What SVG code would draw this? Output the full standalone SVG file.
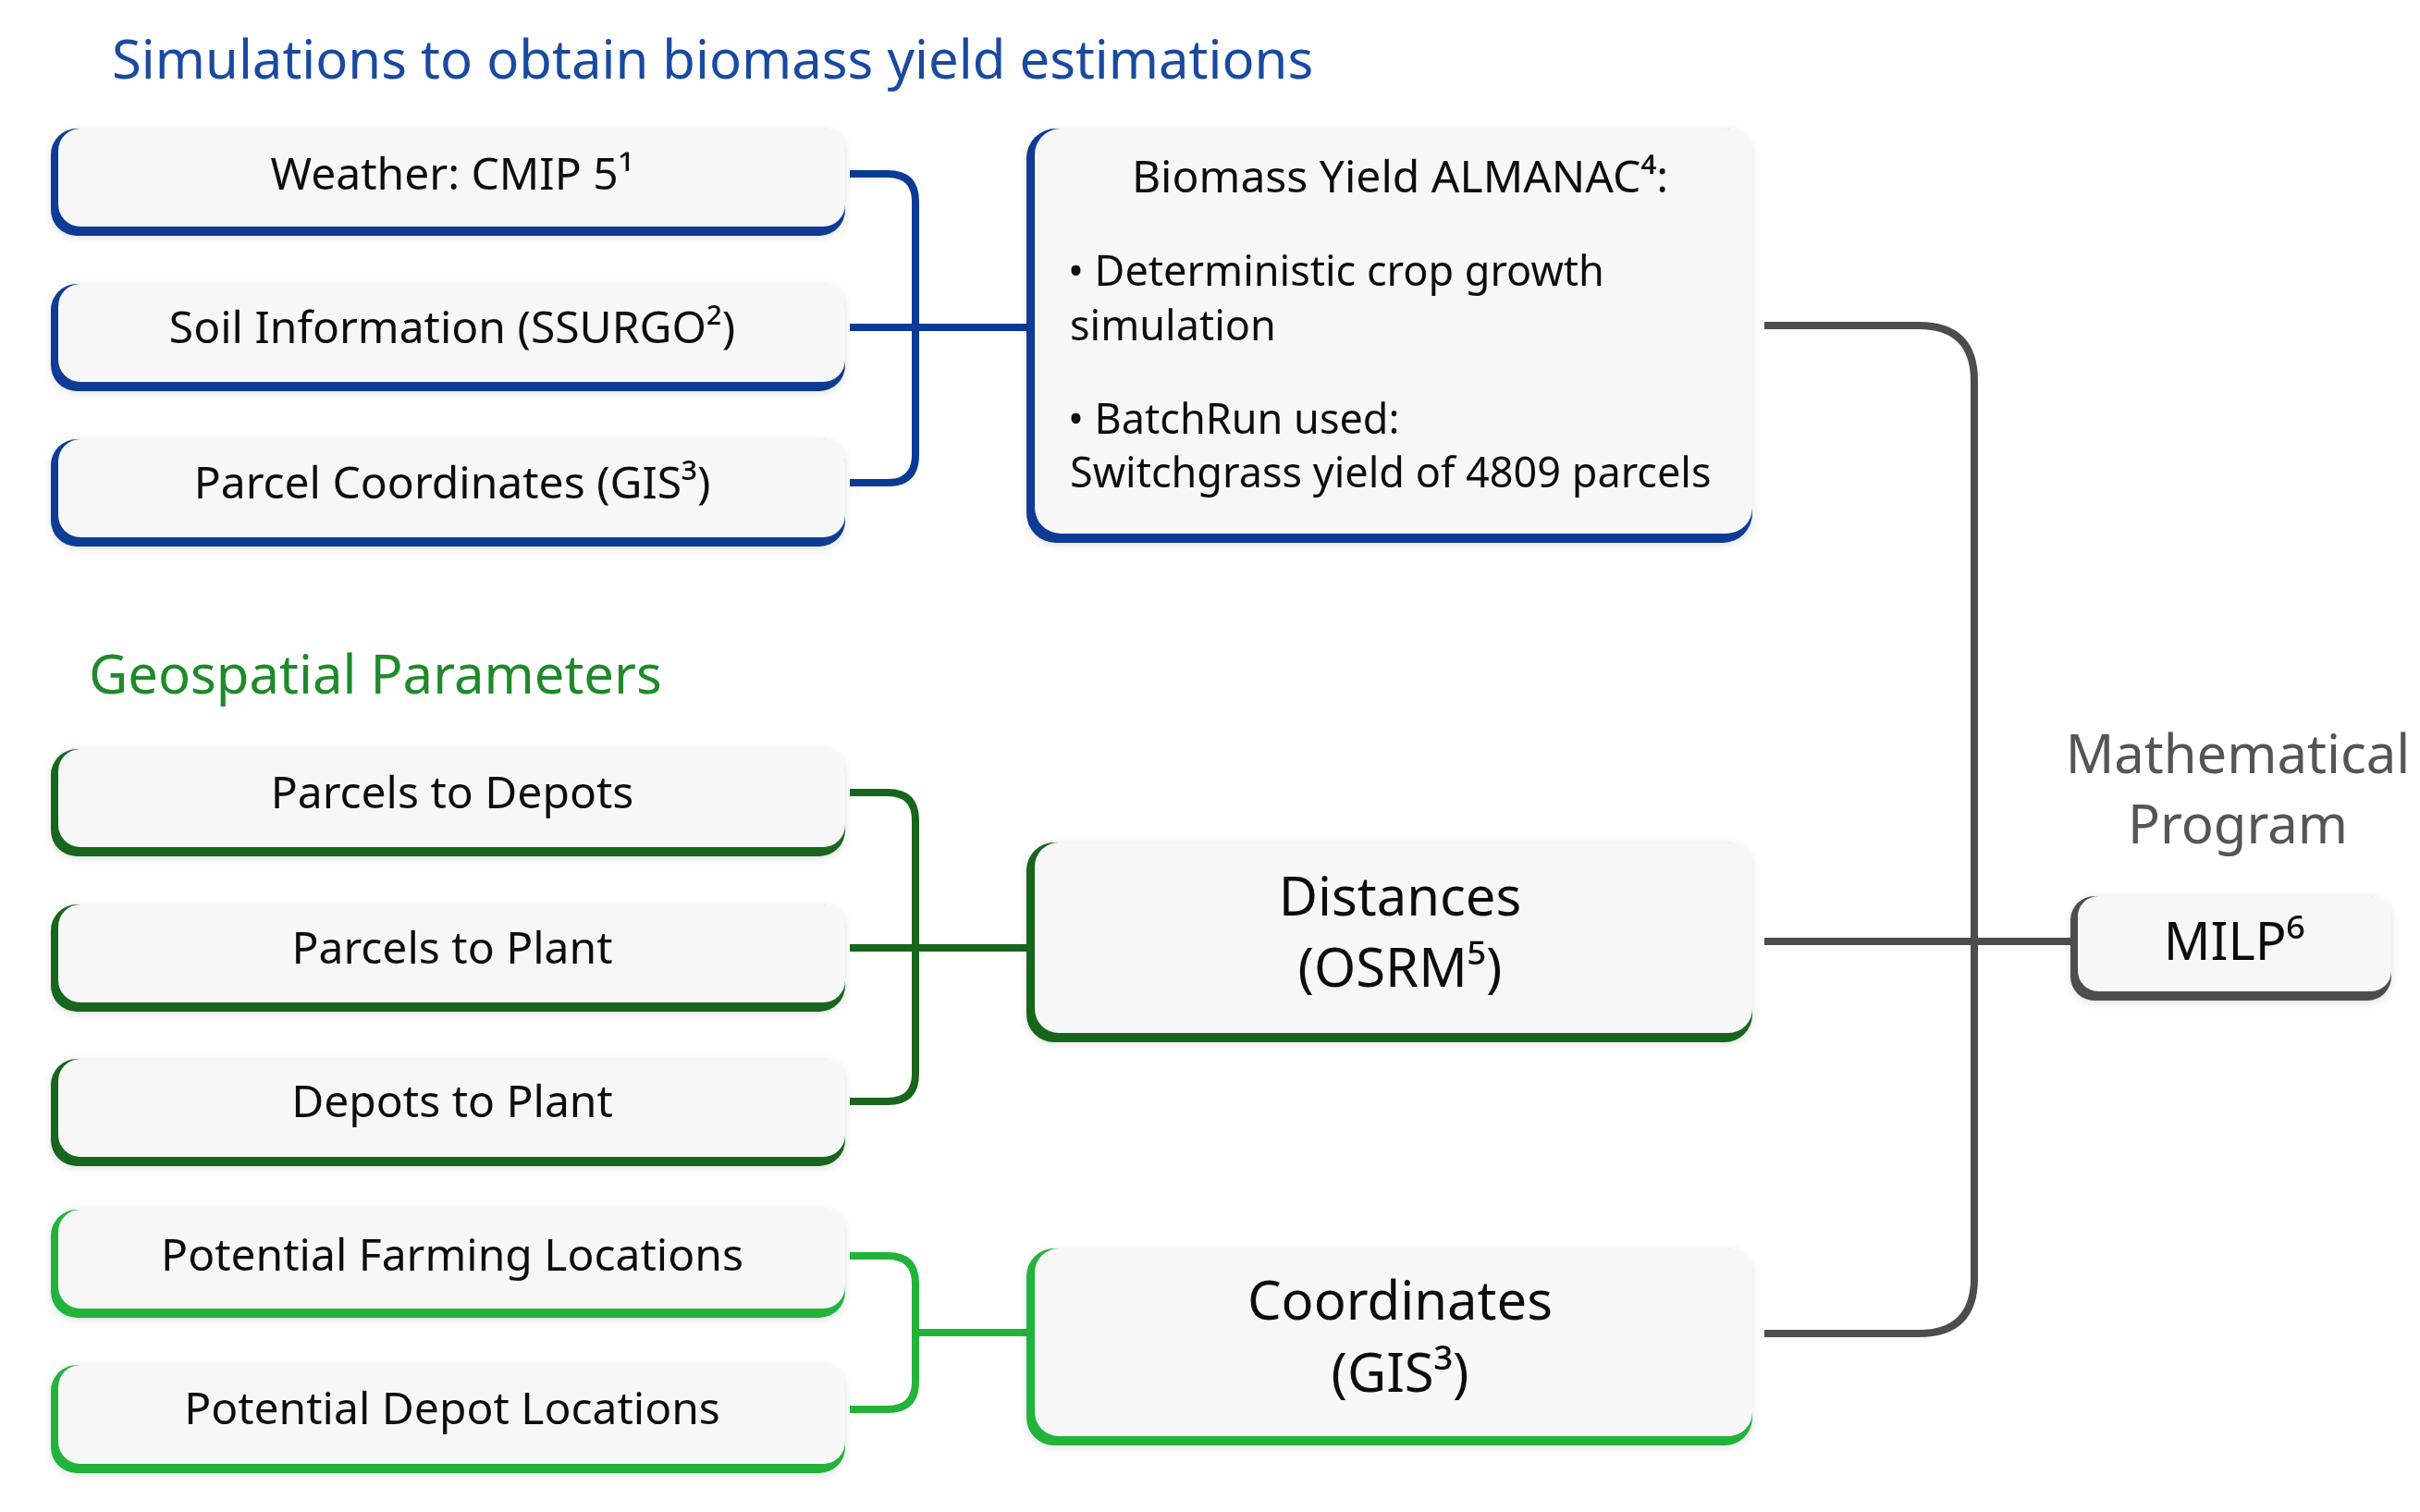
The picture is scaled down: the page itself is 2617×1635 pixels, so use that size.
<svg xmlns="http://www.w3.org/2000/svg" width="2617" height="1635" viewBox="0 0 2617 1635">
<defs>
<filter id="sh" x="-5%" y="-10%" width="110%" height="125%"><feDropShadow dx="0" dy="2" stdDeviation="5" flood-color="#000" flood-opacity="0.12"/></filter>
</defs>
<style>
text{font-family:"Noto Sans","Open Sans",sans-serif;fill:#111}
.t{font-size:48px;text-anchor:middle}
.b{font-size:45px}
.big{font-size:58px;text-anchor:middle}
.face{fill:#f7f7f7}
.blue{fill:#0a3a95}.dg{fill:#17661c}.lg{fill:#22b33a}.gr{fill:#4d4d4d}
.c{fill:none;stroke-width:8}
</style>
<rect width="2617" height="1635" fill="#fff"/>
<text x="121" y="85" style="font-size:58px;fill:#1a4aa0">Simulations to obtain biomass yield estimations</text>
<text x="96" y="750" style="font-size:58px;fill:#1f8a2a">Geospatial Parameters</text>
<text x="2420" y="836" style="font-size:58px;fill:#555;text-anchor:middle">Mathematical</text>
<text x="2420" y="912" style="font-size:58px;fill:#555;text-anchor:middle">Program</text>

<g id="connectors">
<path class="c" stroke="#0a3a95" d="M919 188 H960 Q990 188 990 218 V492 Q990 522 960 522 H919 M919 354 H1110"/>
<path class="c" stroke="#17661c" d="M919 857 H960 Q990 857 990 887 V1161 Q990 1191 960 1191 H919 M919 1025 H1110"/>
<path class="c" stroke="#22b33a" d="M919 1358 H960 Q990 1358 990 1388 V1494 Q990 1524 960 1524 H919 M990 1441 H1110"/>
<path class="c" stroke="#4d4d4d" d="M1908 352 H2075 Q2135 352 2135 412 V1382 Q2135 1442 2075 1442 H1908 M1908 1018 H2240"/>
</g>

<g id="weather" filter="url(#sh)"><rect class="blue" x="55" y="139" width="859" height="116" rx="28"/><rect class="face" x="63" y="139" width="851" height="106" rx="24"/><text class="t" x="489" y="205">Weather: CMIP 5¹</text></g>
<g id="soil" filter="url(#sh)"><rect class="blue" x="55" y="307" width="859" height="116" rx="28"/><rect class="face" x="63" y="307" width="851" height="106" rx="24"/><text class="t" x="489" y="371">Soil Information (SSURGO²)</text></g>
<g id="parcel" filter="url(#sh)"><rect class="blue" x="55" y="475" width="859" height="116" rx="28"/><rect class="face" x="63" y="475" width="851" height="106" rx="24"/><text class="t" x="489" y="539">Parcel Coordinates (GIS³)</text></g>

<g id="almanac" filter="url(#sh)"><rect class="blue" x="1110" y="139" width="785" height="448" rx="32"/><rect class="face" x="1119" y="139" width="776" height="438" rx="28"/>
<text x="1514" y="208" style="font-size:48px;text-anchor:middle">Biomass Yield ALMANAC⁴:</text>
<text class="b" x="1155" y="309">• Deterministic crop growth</text>
<text class="b" x="1157" y="368">simulation</text>
<text class="b" x="1155" y="469">• BatchRun used:</text>
<text class="b" x="1157" y="527">Switchgrass yield of 4809 parcels</text></g>

<g id="p2d" filter="url(#sh)"><rect class="dg" x="55" y="810" width="859" height="116" rx="28"/><rect class="face" x="63" y="810" width="851" height="106" rx="24"/><text class="t" x="489" y="874">Parcels to Depots</text></g>
<g id="p2p" filter="url(#sh)"><rect class="dg" x="55" y="978" width="859" height="116" rx="28"/><rect class="face" x="63" y="978" width="851" height="106" rx="24"/><text class="t" x="489" y="1042">Parcels to Plant</text></g>
<g id="d2p" filter="url(#sh)"><rect class="dg" x="55" y="1145" width="859" height="116" rx="28"/><rect class="face" x="63" y="1145" width="851" height="106" rx="24"/><text class="t" x="489" y="1208">Depots to Plant</text></g>
<g id="distances" filter="url(#sh)"><rect class="dg" x="1110" y="911" width="785" height="216" rx="30"/><rect class="face" x="1119" y="911" width="776" height="206" rx="26"/><text class="big" x="1514" y="990">Distances</text><text class="big" x="1514" y="1067">(OSRM⁵)</text></g>

<g id="farm" filter="url(#sh)"><rect class="lg" x="55" y="1308" width="859" height="117" rx="28"/><rect class="face" x="63" y="1308" width="851" height="107" rx="24"/><text class="t" x="489" y="1374">Potential Farming Locations</text></g>
<g id="depot" filter="url(#sh)"><rect class="lg" x="55" y="1476" width="859" height="117" rx="28"/><rect class="face" x="63" y="1476" width="851" height="107" rx="24"/><text class="t" x="489" y="1540">Potential Depot Locations</text></g>
<g id="coords" filter="url(#sh)"><rect class="lg" x="1110" y="1350" width="785" height="213" rx="30"/><rect class="face" x="1119" y="1350" width="776" height="203" rx="26"/><text class="big" x="1514" y="1427">Coordinates</text><text class="big" x="1514" y="1505">(GIS³)</text></g>

<g id="milp" filter="url(#sh)"><rect class="gr" x="2239" y="969" width="347" height="113" rx="26"/><rect class="face" x="2247" y="969" width="339" height="103" rx="22"/><text x="2416" y="1038" style="font-size:56px;text-anchor:middle">MILP⁶</text></g>
</svg>
